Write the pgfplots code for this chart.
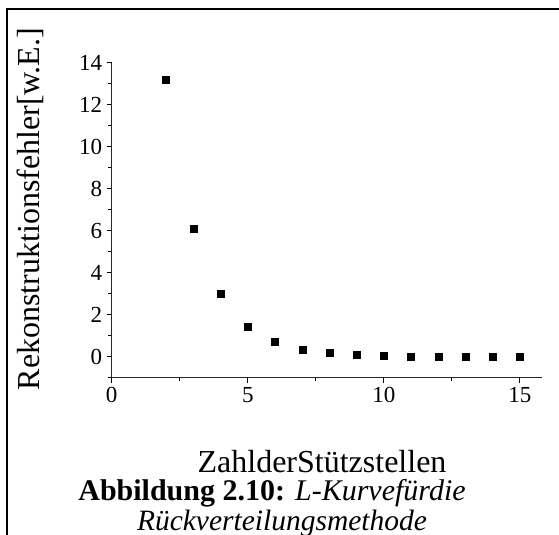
\documentclass[border=0pt]{standalone}
\usepackage{fontspec}
\setmainfont{Liberation Serif}
\usepackage{pgfplots}
\pgfplotsset{compat=1.18}
\begin{document}
\begin{tikzpicture}[x=1bp,y=1bp]
\path[use as bounding box] (0,0) rectangle (559,-535);
\draw[line width=1.8bp] (7,-535) -- (7,-8.7) -- (559,-8.7);
\begin{axis}[
  at={(111.7bp,-377.7bp)}, anchor=south west,
  scale only axis, width=430bp, height=315bp,
  xmin=0, xmax=15.8, ymin=-1, ymax=14,
  axis lines*=left,
  axis line style={line width=1.1bp, black!85},
  xtick={0,5,10,15}, minor xtick={2.5,7.5,12.5},
  ytick={0,2,4,6,8,10,12,14}, minor ytick={-1,1,3,5,7,9,11,13},
  tick align=outside,
  major tick length=5bp, minor tick length=3.5bp,
  every tick/.style={black, line width=0.9bp},
  tick label style={font=\fontsize{23bp}{25bp}\selectfont},
  /pgf/number format/assume math mode=true,
  xticklabel style={yshift=-1bp},
  yticklabel style={xshift=-1bp},
  clip=false,
]
\addplot[only marks, mark=square*, mark size=3.5bp, black] coordinates {
(2,13.17) (3,6.08) (4,2.99) (5,1.43) (6,0.70) (7,0.35) (8,0.18) (9,0.11)
(10,0.05) (11,0.02) (12,0.02) (13,0.02) (14,0.02) (15,0.02)
};
\end{axis}
\node[rotate=90, font=\fontsize{32bp}{34bp}\selectfont, inner sep=0pt] at (30,-209) {Rekonstruktionsfehler[w.E.]};
\node[font=\fontsize{32bp}{34bp}\selectfont, inner sep=0pt, anchor=base] at (322,-472) {ZahlderStützstellen};
\node[font=\fontsize{30bp}{32bp}\selectfont, inner sep=0pt, anchor=base] at (272,-500) {\textbf{Abbildung 2.10:} \textit{L-Kurvefürdie}};
\node[font=\fontsize{29.5bp}{31bp}\selectfont, inner sep=0pt, anchor=base] at (282,-530) {\textit{Rückverteilungsmethode}};
\end{tikzpicture}
\end{document}
